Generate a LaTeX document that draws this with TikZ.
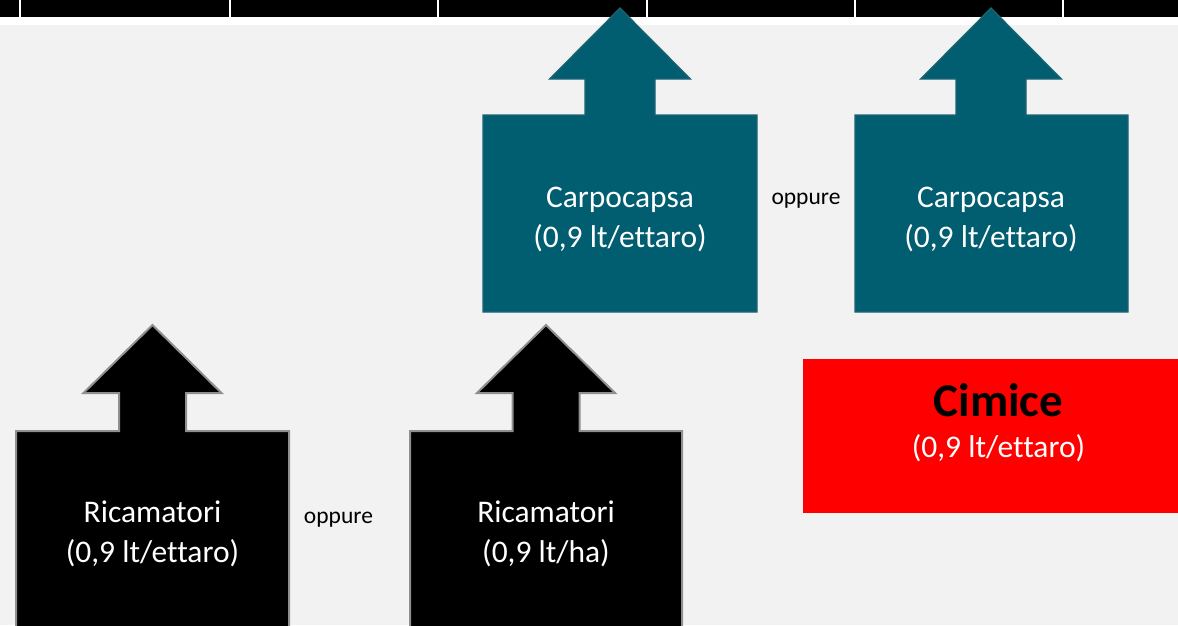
\documentclass[tikz,border=0pt]{standalone}
\usepackage{fontspec}
\setmainfont[Ligatures=NoCommon]{Carlito}
\definecolor{bg}{HTML}{F2F2F2}
\definecolor{teal1}{HTML}{005E70}
\definecolor{tealedge}{HTML}{1E6474}
\definecolor{grayedge}{HTML}{8F8F8F}
\tikzset{
  tealshape/.style={fill=teal1,draw=tealedge,line width=1.2pt,line join=miter},
  blackshape/.style={fill=black,draw=grayedge,line width=2pt,line join=miter},
  lbl/.style={text=white,font=\fontsize{31.5}{40}\selectfont,align=center,inner sep=0pt},
  orlbl/.style={text=black,font=\fontsize{23.5}{28}\selectfont,inner sep=0pt},
  sep/.style={white,line width=1.6pt}
}
\begin{document}
\begin{tikzpicture}[x=1pt,y=-1pt]
\useasboundingbox (0,0) rectangle (1178,625);
\clip (0,0) rectangle (1178,625);
\fill[bg] (0,0) rectangle (1178,625);
\fill[white] (0,0) rectangle (1178,25);
\fill[black] (0,0) rectangle (1178,17);
\foreach \x in {20,230,438,647,855,1063} \draw[sep] (\x,0) -- (\x,17);
% teal arrow boxes
\draw[tealshape] (620,8) -- (690.5,79) -- (655,79) -- (655,115) -- (757,115) -- (757,312) -- (483,312) -- (483,115) -- (585,115) -- (585,79) -- (549.5,79) -- cycle;
\draw[tealshape] (991,8) -- (1061.5,79) -- (1026,79) -- (1026,115) -- (1128,115) -- (1128,312) -- (855,312) -- (855,115) -- (956,115) -- (956,79) -- (920.5,79) -- cycle;
% black arrow boxes
\draw[blackshape] (152.5,325) -- (221.5,393) -- (186,393) -- (186,431) -- (289,431) -- (289,640) -- (16,640) -- (16,431) -- (119,431) -- (119,393) -- (83.5,393) -- cycle;
\draw[blackshape] (546,325) -- (615,393) -- (579.5,393) -- (579.5,431) -- (682,431) -- (682,640) -- (410,640) -- (410,431) -- (512.5,431) -- (512.5,393) -- (477,393) -- cycle;
% red box
\fill[red] (803,359) rectangle (1195,513);
% labels
\node[lbl] (carpo1) at (620,219) {Carpocapsa\\(0,9 lt/ettaro)};
\node[lbl] (carpo2) at (991,219) {Carpocapsa\\(0,9 lt/ettaro)};
\node[lbl] (rica1) at (152.5,533.5) {Ricamatori\\(0,9 lt/ettaro)};
\node[lbl] (rica2) at (546,533.5) {Ricamatori\\(0,9 lt/ha)};
\node[orlbl] (or1) at (806,201) {oppure};
\node[orlbl] (or2) at (338.5,520) {oppure};
\node[text=black,font=\fontsize{47}{50}\bfseries\selectfont,inner sep=0pt] (cim) at (998.5,400) {Cimice};
\node[lbl] (cimdose) at (998.5,448) {(0,9 lt/ettaro)};
\end{tikzpicture}
\end{document}
